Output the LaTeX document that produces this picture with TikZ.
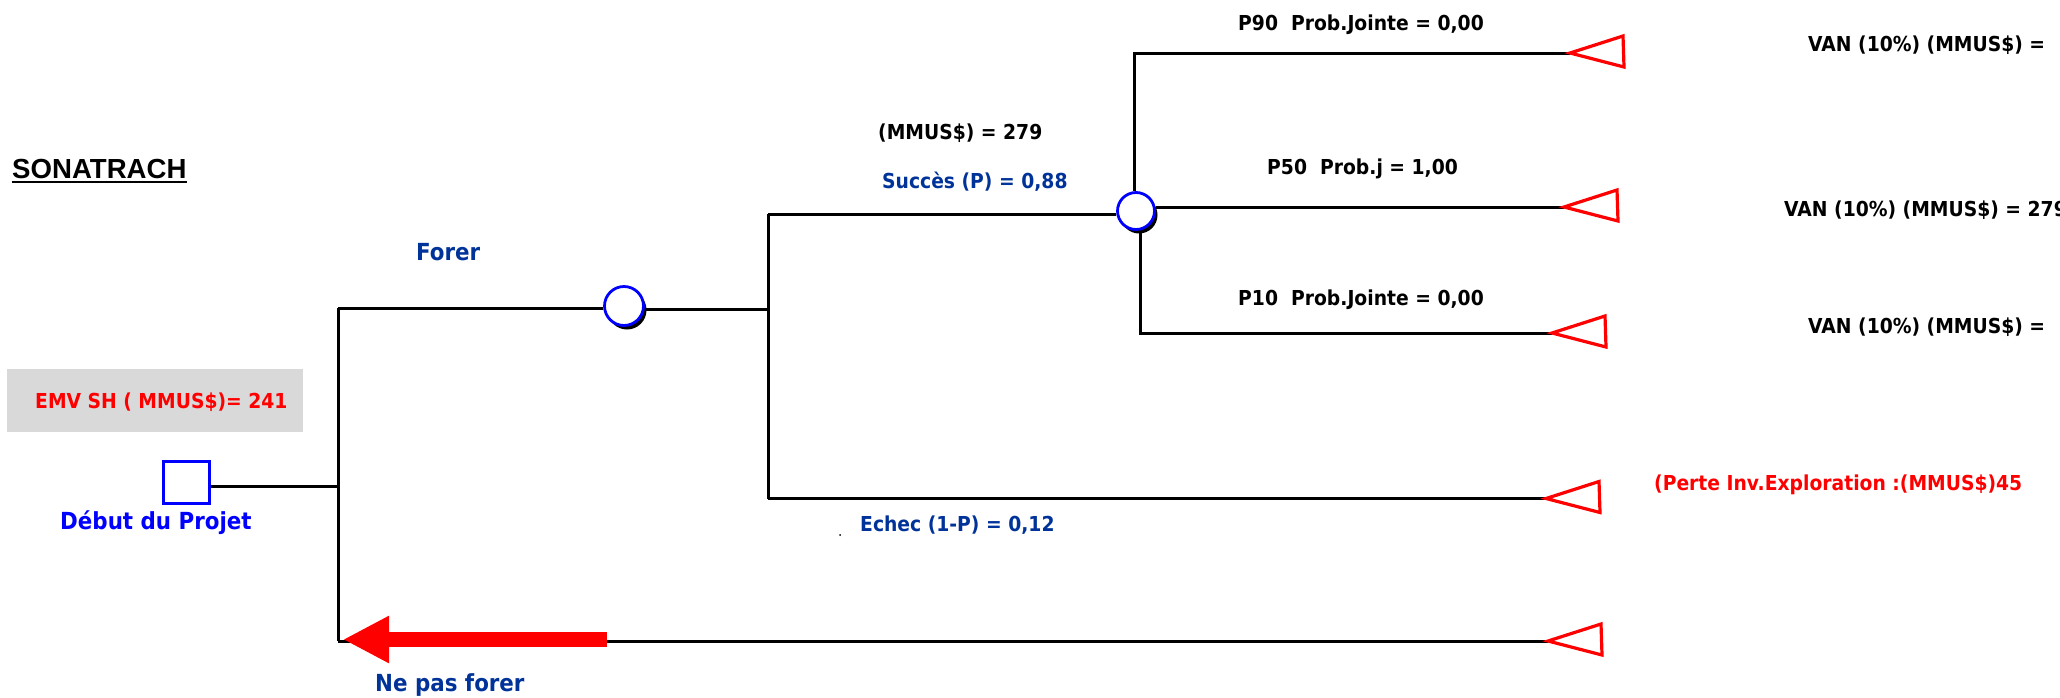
\documentclass[tikz,border=0pt]{standalone}
\usepackage{fontspec}
\newfontfamily\tah[FakeStretch=0.91]{DejaVu Sans}
\newfontfamily\arialf{Liberation Sans}
\usetikzlibrary{shadows,arrows.meta}
\definecolor{dblue}{RGB}{0,51,153}
\definecolor{pblue}{RGB}{0,0,255}
\definecolor{boxgray}{RGB}{217,217,217}
\tikzset{
  lbl/.style={anchor=base west, inner sep=0pt, font=\tah\bfseries\fontsize{20.6}{24}\selectfont},
  biglbl/.style={anchor=base west, inner sep=0pt, font=\tah\bfseries\fontsize{23.5}{28}\selectfont},
  branch/.style={line width=3pt, black},
  chance/.style={circle, draw=pblue, line width=2.8pt, fill=white, inner sep=0pt,
    drop shadow={shadow xshift=3pt, shadow yshift=-4pt, fill=black, opacity=1}},
  decision/.style={rectangle, draw=pblue, line width=3.3pt, minimum width=45.7pt, minimum height=41.7pt, inner sep=0pt},
  endtri/.pic={\draw[red, line width=3.2pt, line join=miter] (0,0) -- (53,-17) -- (54,14) -- cycle;}
}
\begin{document}
\begin{tikzpicture}[x=1pt,y=-1pt]
\useasboundingbox (0,0) rectangle (2060,697);
\begin{scope}
\clip (0,0) rectangle (2060,697);
% title
\node[anchor=base west, inner sep=0pt, font=\arialf\bfseries\fontsize{27.6}{30}\selectfont] (son) at (12,178) {SONATRACH};
\draw[line width=2.6pt] ([yshift=-4pt]son.base west) -- ([yshift=-4pt]son.base east);
% EMV box
\node[fill=boxgray, minimum width=296pt, minimum height=63pt, inner sep=0pt] (emvbox) at (155,400.5) {};
\node[lbl, text=red] (emv) at (35,408) {EMV SH ( MMUS\$)= 241};
% decision node
\node[decision] (dec) at (186.5,482.5) {};
\node[biglbl, text=pblue] (debut) at (60,529) {Début du Projet};
% junction coordinates
\coordinate (j0) at (338,486);
\coordinate (j0top) at (338,308);
\coordinate (j0bot) at (338,641);
\coordinate (j1) at (768,309);
\coordinate (j1top) at (768,214);
\coordinate (j1bot) at (768,498.5);
\coordinate (k90) at (1134,53);
\coordinate (k10) at (1140,333);
\coordinate (t90) at (1570,53);
\coordinate (t50) at (1564,207);
\coordinate (t10) at (1552,333);
\coordinate (tE) at (1546,498.5);
\coordinate (tN) at (1548,641);
\coordinate (aS) at (607,639.5);
\coordinate (aT) at (343,639.5);
% chance nodes
\node[chance, minimum size=39pt] (c1) at (624,306) {};
\node[chance, minimum size=37pt] (c2) at (1136,211) {};
% branches
\draw[branch] (dec.east |- j0) -- (j0);
\draw[branch] (j0top) -- (j0bot);
\draw[branch] (j0top) -- (c1.west |- j0top);
\draw[branch] (c1.east |- j1) -- (j1);
\draw[branch] (j1top) -- (j1bot);
\draw[branch] (j1top) -- (c2.west |- j1top);
\draw[branch] (c2.north -| k90) -- (k90) -- (t90);
\draw[branch] (c2.east |- t50) -- (t50);
\draw[branch] (c2.south -| k10) -- (k10) -- (t10);
\draw[branch] (j1bot) -- (tE);
\draw[branch] (j0bot) -- (tN);
% end triangles
\path (t90) pic {endtri};
\path (t50) pic {endtri};
\path (t10) pic {endtri};
\path (tE) pic {endtri};
\path (tN) pic {endtri};
% red arrow
\draw[red, line width=15pt, -{Triangle[length=46pt,width=44pt]}] (aS) -- (aT);
% labels
\node[biglbl, text=dblue] (forer) at (416,260.5) {Forer};
\node[lbl] (emv279) at (878,139) {(MMUS\$) = 279};
\node[lbl, text=dblue] (succes) at (882,188) {Succès (P) = 0,88};
\node[lbl, text=dblue] (echec) at (860,531) {Echec (1-P) = 0,12};
\fill (840,535) circle (1pt);
\node[biglbl, text=dblue] (nepas) at (375,691.5) {Ne pas forer};
\node[lbl] (p90) at (1238,30) {P90\ \ Prob.Jointe = 0,00};
\node[lbl] (p50) at (1267,174) {P50\ \ Prob.j = 1,00};
\node[lbl] (p10) at (1238,305) {P10\ \ Prob.Jointe = 0,00};
\node[lbl] (van1) at (1808,51.5) {VAN (10\%) (MMUS\$) =};
\node[lbl] (van2) at (1784,216) {VAN (10\%) (MMUS\$) = 279};
\node[lbl] (van3) at (1808,333) {VAN (10\%) (MMUS\$) =};
\node[lbl, text=red] (perte) at (1654,490) {(Perte Inv.Exploration :(MMUS\$)45};
\end{scope}
\end{tikzpicture}
\end{document}
